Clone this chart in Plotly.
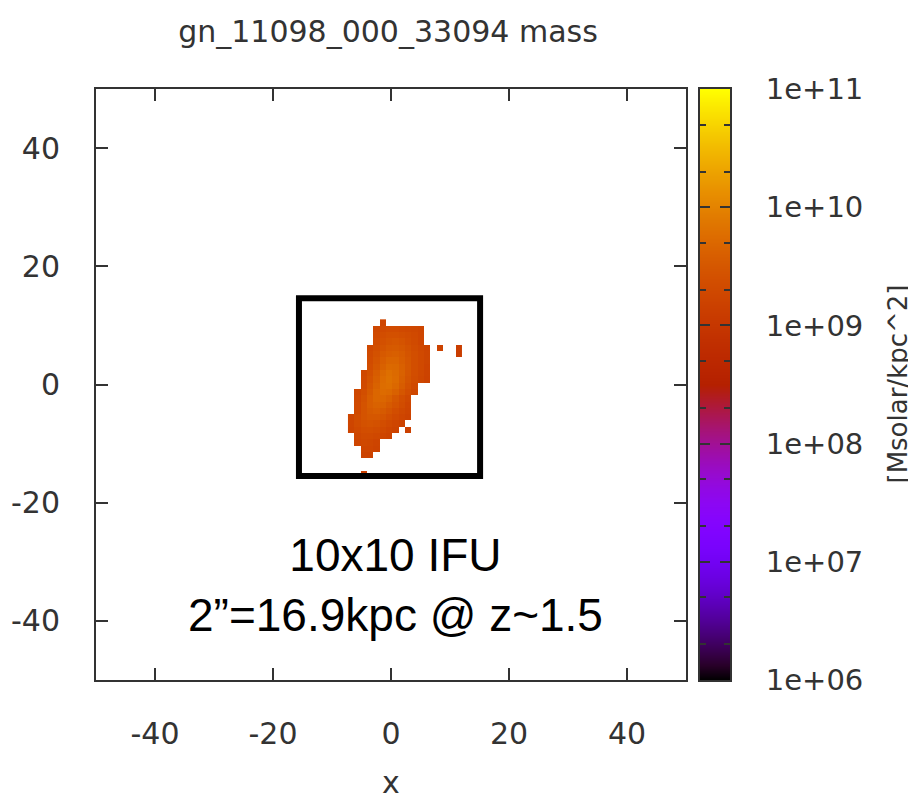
import math
import plotly.graph_objects as go

N = None

TITLE = "gn_11098_000_33094 mass"
X_LABEL = "x"
CB_LABEL = "[Msolar/kpc^2]"
AXIS_TICKS = [-40, -20, 0, 20, 40]
AXIS_TICKTEXT = ["-40", "-20", "0", "20", "40"]
CB_DECADES = [6, 7, 8, 9, 10, 11]
CB_TICKTEXT = ["1e+06", "1e+07", "1e+08", "1e+09", "1e+10", "1e+11"]
IFU_TEXT = "10x10 IFU<br>2\u201d=16.9kpc @ z~1.5"

# map grid (kpc): pixel size, centre of first column, centre of top row
PIX_KPC = 1.07
COL0_X = -6.76
ROW0_Y = 10.49

# log10 surface mass density per pixel, rows listed top -> bottom, cols left -> right
LOG_MASS_ROWS = [
    [N, N, N, N, N, 9.24, N, N, N, N, N, N, N, N, N, N, N, N],
    [N, N, N, N, 9.26, 9.30, 9.33, 9.33, 9.30, 9.28, 9.26, 9.23, N, N, N, N, N, N],
    [N, N, N, N, 9.30, 9.36, 9.40, 9.40, 9.38, 9.34, 9.30, 9.24, N, N, N, N, N, N],
    [N, N, N, N, 9.33, 9.40, 9.46, 9.48, 9.44, 9.38, 9.32, 9.24, N, N, N, N, N, N],
    [N, N, N, 9.28, 9.38, 9.46, 9.52, 9.54, 9.50, 9.43, 9.35, 9.28, 9.22, N, 9.18, N, N, 9.12],
    [N, N, N, 9.31, 9.42, 9.52, 9.58, 9.60, 9.55, 9.46, 9.37, 9.30, 9.23, N, N, N, N, 9.10],
    [N, N, N, 9.33, 9.46, 9.58, 9.66, 9.66, 9.58, 9.48, 9.38, 9.30, 9.23, N, N, N, N, N],
    [N, N, N, 9.36, 9.50, 9.63, 9.72, 9.70, 9.61, 9.50, 9.38, 9.30, 9.21, N, N, N, N, N],
    [N, N, 9.28, 9.40, 9.56, 9.70, 9.78, 9.73, 9.62, 9.48, 9.36, 9.28, 9.20, N, N, N, N, N],
    [N, N, 9.30, 9.44, 9.60, 9.74, 9.81, 9.74, 9.60, 9.46, 9.34, 9.26, 9.18, N, N, N, N, N],
    [N, N, 9.32, 9.48, 9.64, 9.76, 9.78, 9.70, 9.56, 9.42, 9.30, N, N, N, N, N, N, N],
    [N, 9.26, 9.38, 9.54, 9.68, 9.74, 9.72, 9.62, 9.48, 9.36, 9.26, N, N, N, N, N, N, N],
    [N, 9.28, 9.42, 9.58, 9.68, 9.68, 9.62, 9.50, 9.38, 9.28, N, N, N, N, N, N, N, N],
    [N, 9.30, 9.44, 9.58, 9.64, 9.62, 9.54, 9.44, 9.34, 9.24, N, N, N, N, N, N, N, N],
    [N, 9.30, 9.44, 9.54, 9.58, 9.54, 9.46, 9.36, 9.28, 9.22, N, N, N, N, N, N, N, N],
    [9.24, 9.34, 9.44, 9.50, 9.50, 9.46, 9.38, 9.30, 9.24, 9.18, N, N, N, N, N, N, N, N],
    [9.24, 9.34, 9.42, 9.44, 9.42, 9.36, 9.30, 9.24, 9.18, N, N, N, N, N, N, N, N, N],
    [9.22, 9.30, 9.36, 9.38, 9.34, 9.30, 9.24, 9.20, N, 9.16, N, N, N, N, N, N, N, N],
    [N, 9.26, 9.32, 9.32, 9.28, 9.24, 9.20, N, N, N, N, N, N, N, N, N, N, N],
    [N, 9.24, 9.28, 9.26, 9.22, N, N, N, N, N, N, N, N, N, N, N, N, N],
    [N, N, 9.24, 9.24, 9.20, N, N, N, N, N, N, N, N, N, N, N, N, N],
    [N, N, 9.20, 9.18, N, N, N, N, N, N, N, N, N, N, N, N, N, N],
    [N, N, N, N, N, N, N, N, N, N, N, N, N, N, N, N, N, N],
    [N, N, N, N, N, N, N, N, N, N, N, N, N, N, N, N, N, N],
    [N, N, 9.14, N, N, N, N, N, N, N, N, N, N, N, N, N, N, N],
]

# IFU field outline (kpc)
IFU_BOX = dict(x0=-15.6, x1=15.1, y0=-15.5, y1=14.6)
IFU_TEXT_POS = (0.7, -34.0)


# gnuplot default pm3d palette: rgbformulae 7,5,15
def gnuplot_palette(n=41):
    scale = []
    for i in range(n):
        f = i / (n - 1)
        r = math.sqrt(f)
        g = f ** 3
        b = max(0.0, math.sin(2 * math.pi * f))
        scale.append([f, "rgb(%d,%d,%d)" % (round(255 * r), round(255 * g), round(255 * b))])
    return scale


PALETTE = gnuplot_palette()
ZMIN, ZMAX = CB_DECADES[0], CB_DECADES[-1]

AX_COL = "#333333"
TICK_FONT = dict(family="DejaVu Sans", size=30, color=AX_COL)

z_bottom_up = list(reversed(LOG_MASS_ROWS))
y0 = ROW0_Y - (len(LOG_MASS_ROWS) - 1) * PIX_KPC

fig = go.Figure()
fig.add_trace(go.Heatmap(
    z=z_bottom_up, x0=COL0_X, dx=PIX_KPC, y0=y0, dy=PIX_KPC,
    zmin=ZMIN, zmax=ZMAX, colorscale=PALETTE, showscale=False,
    xaxis="x", yaxis="y", hoverongaps=False,
))

# colour bar drawn as a ramp between the decade levels
fig.add_trace(go.Heatmap(
    z=[[d, d] for d in CB_DECADES], x=[0, 1], y=CB_DECADES,
    zmin=ZMIN, zmax=ZMAX, colorscale=PALETTE, showscale=False,
    zsmooth="best", xaxis="x2", yaxis="y2", hoverinfo="skip",
))

minor_vals = []
for d in CB_DECADES[:-1]:
    minor_vals += [d + math.log10(2), d + math.log10(5)]

# the page body adds an 8 px offset, so the figure is 8 px smaller than the window
FIG_W, FIG_H = 908, 792
ML, MR, MT, MB = 88, 186, 81, 120
PLOT_W = FIG_W - ML - MR

fig.update_layout(
    width=FIG_W, height=FIG_H,
    margin=dict(l=ML, r=MR, t=MT, b=MB, autoexpand=False),
    paper_bgcolor="white", plot_bgcolor="white",
    showlegend=False,
    title=dict(text=TITLE, x=380 / FIG_W, xanchor="center", y=1 - 23 / FIG_H, yanchor="middle",
               font=dict(family="DejaVu Sans", size=30, color=AX_COL)),
    xaxis=dict(
        domain=[0, 590 / PLOT_W], range=[-50, 50], tickvals=AXIS_TICKS, ticktext=AXIS_TICKTEXT,
        ticks="inside", ticklen=12, tickwidth=2, tickcolor=AX_COL,
        showline=True, linewidth=2, linecolor=AX_COL, mirror="ticks",
        showgrid=False, zeroline=False, tickfont=TICK_FONT, ticklabelstandoff=26,
        title=dict(text=X_LABEL, font=dict(family="DejaVu Sans", size=30, color=AX_COL), standoff=28),
        anchor="y",
    ),
    yaxis=dict(
        domain=[0, 1], range=[-50, 50], tickvals=AXIS_TICKS, ticktext=AXIS_TICKTEXT,
        ticks="inside", ticklen=12, tickwidth=2, tickcolor=AX_COL,
        showline=True, linewidth=2, linecolor=AX_COL, mirror="ticks",
        showgrid=False, zeroline=False, tickfont=TICK_FONT, ticklabelstandoff=28,
        anchor="x",
    ),
    xaxis2=dict(
        domain=[(692 - ML) / PLOT_W, 1.0], range=[0, 1], anchor="y2",
        showticklabels=False, ticks="", showgrid=False, zeroline=False,
        showline=True, linewidth=2, linecolor=AX_COL, mirror=True,
    ),
    yaxis2=dict(
        domain=[0, 1], range=[ZMIN, ZMAX], anchor="x2", side="right",
        tickvals=CB_DECADES, ticktext=CB_TICKTEXT,
        ticks="inside", ticklen=10, tickwidth=2, tickcolor=AX_COL,
        minor=dict(tickvals=minor_vals, ticks="inside", ticklen=6, tickwidth=1.5, tickcolor=AX_COL),
        showline=True, linewidth=2, linecolor=AX_COL, mirror="ticks",
        showgrid=False, zeroline=False,
        tickfont=dict(family="DejaVu Sans", size=29, color=AX_COL), ticklabelstandoff=28,
    ),
    shapes=[dict(type="rect", xref="x", yref="y", **IFU_BOX,
                 line=dict(color="black", width=6), fillcolor="rgba(0,0,0,0)")],
    annotations=[
        dict(text=IFU_TEXT, x=IFU_TEXT_POS[0], y=IFU_TEXT_POS[1], xref="x", yref="y",
             showarrow=False, align="center",
             font=dict(family="Liberation Sans", size=46, color="black")),
        dict(text=CB_LABEL, x=(889 - ML) / PLOT_W, y=0.5, xref="paper", yref="paper",
             textangle=-90, showarrow=False, xanchor="center", yanchor="middle",
             font=dict(family="DejaVu Sans", size=26, color=AX_COL)),
    ],
)

fig.write_html("out.html")
